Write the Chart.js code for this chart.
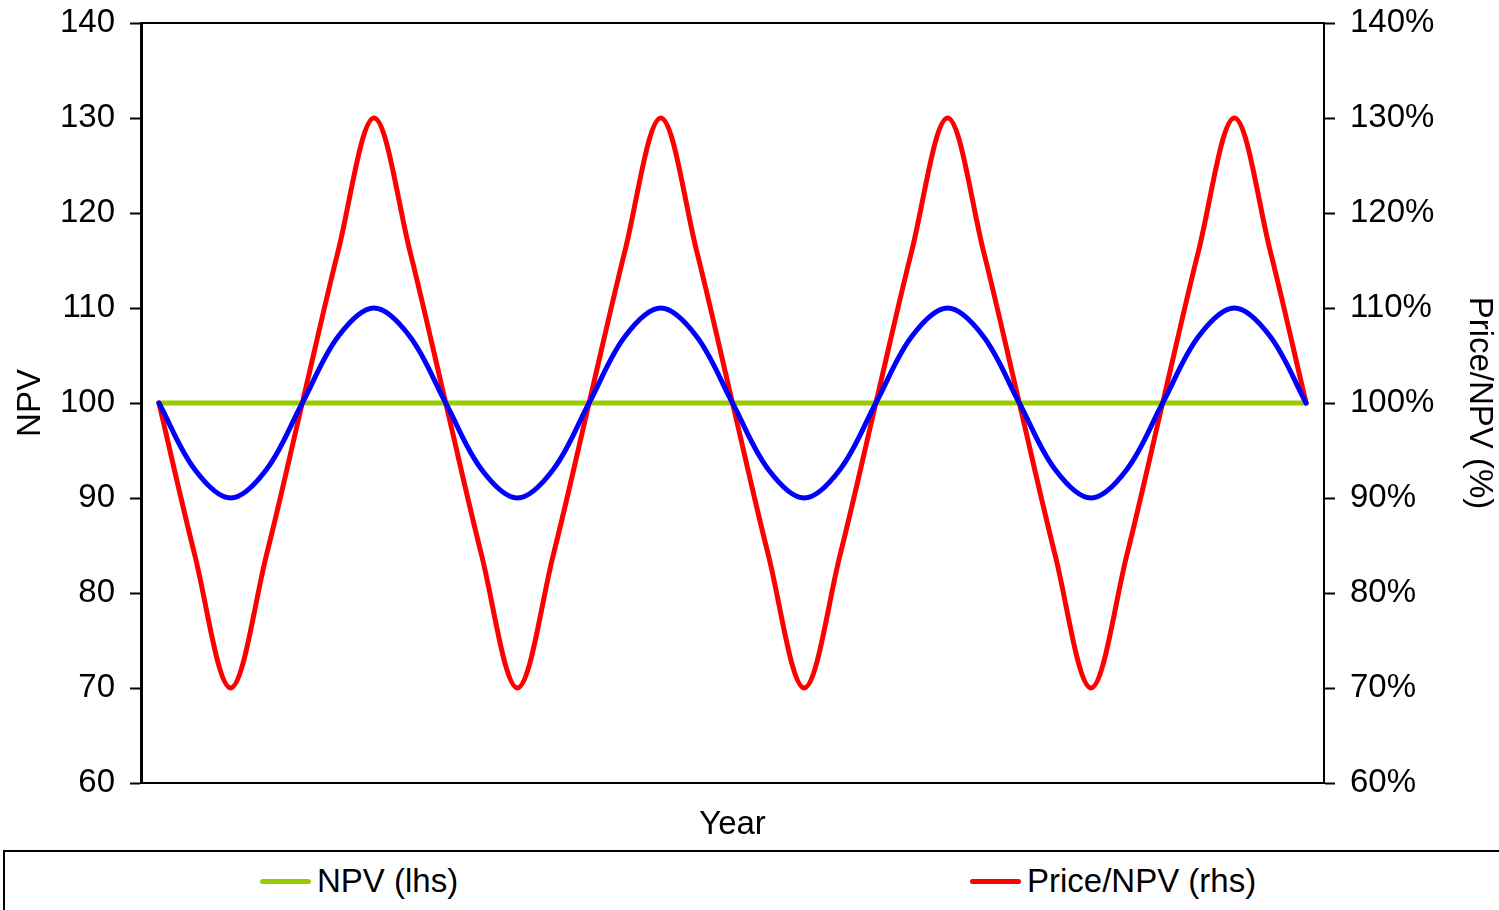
<!DOCTYPE html>
<html>
<head>
<meta charset="utf-8">
<script src="https://cdn.jsdelivr.net/npm/chart.js@4"></script>
<style>
  html, body { margin: 0; padding: 0; background: #fff; overflow: hidden; }
  body { width: 1499px; height: 910px; position: relative; font-family: "Liberation Sans", Arial, sans-serif; }
  #wrap { position: absolute; left: 0; top: 0; width: 1499px; height: 850px; }
  #legend {
    position: absolute; left: 3px; top: 850px; width: 1700px; height: 80px;
    border: 2px solid #000; box-sizing: border-box;
  }
  .item { position: absolute; top: 0; height: 58px; display: flex; align-items: center; white-space: nowrap; font-size: 33px; color: #000; }
  .swatch { width: 51px; height: 5px; border-radius: 3px; margin-right: 6px; }
</style>
</head>
<body>
<div id="wrap"><canvas id="chart"></canvas></div>
<div id="legend"></div>
<script>
// years (category axis, labels not shown)
const years = [
  1, 2, 3, 4, 5, 6, 7, 8, 9, 10, 11, 12, 13, 14, 15, 16, 17,
  18, 19, 20, 21, 22, 23, 24, 25, 26, 27, 28, 29, 30, 31, 32, 33
];

// NPV (lhs)
const npv = [
  100, 100, 100, 100, 100, 100, 100, 100, 100, 100, 100, 100, 100, 100, 100, 100, 100,
  100, 100, 100, 100, 100, 100, 100, 100, 100, 100, 100, 100, 100, 100, 100, 100
];

// Price (lhs)
const price = [
  100, 93, 90, 93, 100, 107, 110, 107,
  100, 93, 90, 93, 100, 107, 110, 107,
  100, 93, 90, 93, 100, 107, 110, 107,
  100, 93, 90, 93, 100, 107, 110, 107,
  100
];

// Price/NPV in % (rhs)
const priceToNpv = [
  100, 84, 70, 84, 100, 116, 130, 116,
  100, 84, 70, 84, 100, 116, 130, 116,
  100, 84, 70, 84, 100, 116, 130, 116,
  100, 84, 70, 84, 100, 116, 130, 116,
  100
];

const leftTicks = [60, 70, 80, 90, 100, 110, 120, 130, 140];
const rightTicks = [60, 70, 80, 90, 100, 110, 120, 130, 140];

const FONT = "'Liberation Sans', Arial, sans-serif";

// frame line along the top of the plot area
const topFrame = {
  id: "topFrame",
  afterDraw(chart) {
    const { ctx, chartArea } = chart;
    ctx.save();
    ctx.strokeStyle = "#000";
    ctx.lineWidth = 2;
    ctx.beginPath();
    ctx.moveTo(chartArea.left, chartArea.top);
    ctx.lineTo(chartArea.right, chartArea.top);
    ctx.stroke();
    ctx.restore();
  }
};

const ctx = document.getElementById("chart").getContext("2d");
const chart = new Chart(ctx, {
  type: "line",
  data: {
    labels: years,
    datasets: [
      {
        label: "NPV (lhs)",
        data: npv,
        yAxisID: "y",
        borderColor: "#99cc00",
        borderWidth: 5,
        order: 3
      },
      {
        label: "Price/NPV (rhs)",
        data: priceToNpv,
        yAxisID: "y2",
        borderColor: "#ff0000",
        borderWidth: 5,
        order: 2
      },
      {
        label: "Price (lhs)",
        data: price,
        yAxisID: "y",
        borderColor: "#0000ff",
        borderWidth: 5,
        order: 1
      }
    ]
  },
  options: {
    responsive: true,
    maintainAspectRatio: false,
    animation: false,
    layout: { padding: { top: 23, left: 0, right: 0, bottom: 0 } },
    elements: {
      point: { radius: 0 },
      line: { tension: 0.35, borderCapStyle: "round", borderJoinStyle: "round" }
    },
    plugins: {
      legend: { display: false },
      tooltip: { enabled: false }
    },
    scales: {
      x: {
        offset: true,
        grid: { display: false, offset: true },
        border: { display: true, color: "#000", width: 2 },
        ticks: { display: false },
        title: {
          display: true,
          text: "Year",
          color: "#000",
          font: { family: FONT, size: 33 },
          padding: { top: 0, bottom: 5 }
        },
        afterFit(scale) { scale.height = 67; }
      },
      y: {
        position: "left",
        min: 60,
        max: 140,
        afterBuildTicks(scale) { scale.ticks = leftTicks.map(v => ({ value: v })); },
        grid: { drawOnChartArea: false, drawTicks: true, tickLength: 11, color: "#000", tickWidth: 2 },
        border: { display: true, color: "#000", width: 3 },
        ticks: {
          color: "#000",
          padding: 15,
          font: { family: FONT, size: 33 }
        },
        title: {
          display: true,
          text: "NPV",
          color: "#000",
          font: { family: FONT, size: 33 },
          padding: { top: 11, bottom: 0 }
        },
        afterFit(scale) {
          scale.width = 141;
          scale.paddingTop = 0;
          scale.paddingBottom = 0;
        }
      },
      y2: {
        position: "right",
        min: 60,
        max: 140,
        afterBuildTicks(scale) { scale.ticks = rightTicks.map(v => ({ value: v })); },
        grid: { drawOnChartArea: false, drawTicks: true, tickLength: 11, color: "#000", tickWidth: 2 },
        border: { display: true, color: "#000", width: 2 },
        ticks: {
          color: "#000",
          padding: 15,
          font: { family: FONT, size: 33 },
          callback: v => v + "%"
        },
        title: {
          display: true,
          text: "Price/NPV (%)",
          color: "#000",
          font: { family: FONT, size: 33 },
          padding: { top: 0, bottom: 8 }
        },
        afterFit(scale) {
          scale.width = 175;
          scale.paddingTop = 0;
          scale.paddingBottom = 0;
        }
      }
    }
  },
  plugins: [topFrame]
});

// legend box under the chart (third entry falls past the window edge)
const legendEl = document.getElementById("legend");
chart.data.datasets.forEach((ds, i) => {
  const item = document.createElement("div");
  item.className = "item";
  item.style.left = (255 + i * 710) + "px";
  item.innerHTML = `<span class="swatch" style="background:${ds.borderColor}"></span>${ds.label}`;
  legendEl.appendChild(item);
});
</script>
</body>
</html>
